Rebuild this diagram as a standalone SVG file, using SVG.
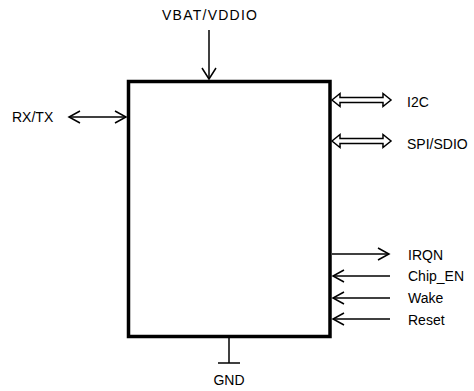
<svg xmlns="http://www.w3.org/2000/svg" width="474" height="391" viewBox="0 0 474 391">
<style>
text{font-family:"Liberation Sans",Arial,sans-serif;font-size:14px;fill:#000}
.ln{stroke:#000;stroke-width:1.5;fill:none}
.hd{stroke:#000;stroke-width:1.5;fill:none;stroke-linejoin:miter}
.dbl{stroke:#000;stroke-width:1.5;fill:#fff;stroke-linejoin:miter}
</style>
<rect width="474" height="391" fill="#fff"/>
<g id="chip">
<rect x="128.5" y="81.5" width="201.5" height="255" fill="#fff" stroke="#000" stroke-width="3.5"/>
</g>
<g id="connectors">
<line class="ln" x1="209" y1="30" x2="209" y2="79"/>
<polyline class="hd" points="202,68 209,79 216,68"/>
<line class="ln" x1="69" y1="117" x2="126" y2="117"/>
<polyline class="hd" points="80,111 69,117 80,123"/>
<polyline class="hd" points="115,111 126,117 115,123"/>
<polygon class="dbl" points="332,100 340,93.5 340,97.5 383,97.5 383,93.5 391,100 383,106.5 383,102.5 340,102.5 340,106.5"/>
<polygon class="dbl" points="332,141 340,134.5 340,138.5 383,138.5 383,134.5 391,141 383,147.5 383,143.5 340,143.5 340,147.5"/>
<line class="ln" x1="332" y1="254" x2="389" y2="254"/>
<polyline class="hd" points="378,248 389,254 378,260"/>
<line class="ln" x1="333" y1="276" x2="390" y2="276"/>
<polyline class="hd" points="344,270 333,276 344,282"/>
<line class="ln" x1="333" y1="298" x2="390" y2="298"/>
<polyline class="hd" points="344,292 333,298 344,304"/>
<line class="ln" x1="333" y1="319" x2="390" y2="319"/>
<polyline class="hd" points="344,313 333,319 344,325"/>
<line class="ln" x1="229" y1="338" x2="229" y2="363"/>
<line class="ln" x1="218" y1="363" x2="240" y2="363"/>
</g>
<g id="labels">
<text x="162" y="20" textLength="95" lengthAdjust="spacing">VBAT/VDDIO</text>
<text x="12" y="122">RX/TX</text>
<text x="407" y="107">I2C</text>
<text x="407" y="149">SPI/SDIO</text>
<text x="408" y="260">IRQN</text>
<text x="408" y="281">Chip_EN</text>
<text x="408" y="303">Wake</text>
<text x="408" y="325">Reset</text>
<text x="229" y="385" text-anchor="middle">GND</text>
</g>
</svg>
